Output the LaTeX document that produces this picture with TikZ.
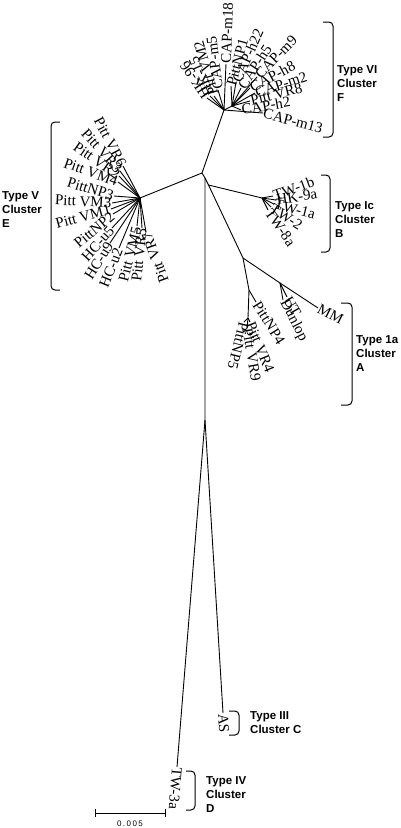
\documentclass[tikz,border=0pt]{standalone}
\usepackage{fontspec}
\setmainfont{Liberation Serif}
\newfontfamily\grpfont{Liberation Sans}
\newfontfamily\barfont[LetterSpace=18]{Liberation Sans}
\usetikzlibrary{positioning}

\tikzset{
  leaf/.style={inner sep=0.5pt, font=\fontsize{15}{16}\selectfont},
  branch/.style={line width=0.9pt},
  grp/.style={align=left, anchor=north west, inner sep=0pt,
    font=\grpfont\bfseries\fontsize{11.5}{14}\selectfont},
  brace/.style={line width=1pt, rounded corners=4pt}
}

\begin{document}
\begin{tikzpicture}[x=1pt,y=-1pt]
\useasboundingbox (0,0) rectangle (400,828);

% inner nodes of the tree
\coordinate (n1) at (202,173);
\coordinate (n2) at (205,178);
\coordinate (n3) at (208.5,185);
\coordinate (n4) at (205,420);
\coordinate (hF) at (224,110);
\coordinate (hF2) at (232,106);
\coordinate (hE) at (140,198);
\coordinate (hB) at (262,198);
\coordinate (hA) at (243,258);
\coordinate (hA1) at (249,290);
\coordinate (hA2) at (248,318);
\coordinate (hA3) at (280,283);

\draw[branch] (hE) -- (n1) -- (hF) -- (hF2);
\draw[branch] (n1) -- (n2) -- (n4);
\draw[branch] (n2) -- (n3) -- (hA) -- (hA1) -- (hA2);
\draw[branch] (n3) -- (hB);
\draw[branch] (hA) -- (hA3);

% cluster F
\foreach \lab/\x/\y/\r [count=\i] in {HK-96/207/98/124, HK-15/210/96/114,
    Pitt VM2/214/96/106, CAP-m5/218/90/97, CAP-m18/226/64/88, CAP-m13/263/113/-15}{
  \coordinate (f\i) at (\x,\y);
  \draw[branch] (hF) -- (f\i);
  \node[leaf, anchor=west, rotate=\r] (lf\i) at (f\i) {\lab};
}
\foreach \lab/\x/\y/\r [count=\i] in {PittNP1/231/86/75, CAP-h22/236/82/66,
    CAP-h5/241/88/57, CAP-m9/257/77/46, CAP-h8/250/88/28, CAP-m2/255/93/18,
    Pitt VR8/250/101/14, CAP-h2/241/110/10}{
  \coordinate (g\i) at (\x,\y);
  \draw[branch] (hF2) -- (g\i);
  \node[leaf, anchor=west, rotate=\r] (lg\i) at (g\i) {\lab};
}

% cluster E
\foreach \lab/\x/\y/\r [count=\i] in {Pitt VR6/123/166/-62, Pitt VR3/120/171/-48,
    Pitt VR2/119/176/-35, Pitt VM4/118/182/-20, PittNP3/114/196/-17,
    Pitt VM3/112/203/-3, Pitt VM1/111/209/15, PittNP2/113/214/40,
    HC-u5/112/228/48, HC-u9/110/243/58, HC-u2/119/248/68,
    Pitt VM5/137/226/76, Pitt VR5/142/228/84, Pitt VR7/146/232/110}{
  \coordinate (e\i) at (\x,\y);
  \draw[branch] (hE) -- (e\i);
  \node[leaf, anchor=east, rotate=\r] (le\i) at (e\i) {\lab};
}

% cluster B
\foreach \lab/\x/\y/\r [count=\i] in {TW-1b/273/196/20, HK-9a/276/200/9,
    TW-1a/274/204/-14, TW-2/271/207/-33, TW-8a/268/210/-55}{
  \coordinate (b\i) at (\x,\y);
  \draw[branch] (hB) -- (b\i);
  \node[leaf, anchor=west, rotate=\r] (lb\i) at (b\i) {\lab};
}

% cluster A
\foreach \lab/\x/\y/\r/\h [count=\i] in {MM/318/308/-27/hA3, UT/287/297/-60/hA3,
    Dunlop/283/300/-63/hA3, PittNP4/256/302/-58/hA1, Pitt VR4/250/322/-68/hA2,
    Pitt VR9/247/328/-80/hA2, PittNP5/244/322/-104/hA2}{
  \coordinate (a\i) at (\x,\y);
  \draw[branch] (\h) -- (a\i);
  \node[leaf, anchor=west, rotate=\r] (la\i) at (a\i) {\lab};
}

% clusters C and D
\coordinate (tAS) at (223,713);
\coordinate (tTW) at (177,767);
\draw[branch] (n4) -- (tAS);
\draw[branch] (n4) -- (tTW);
\node[leaf, anchor=west, rotate=-86.5] (lAS) at (tAS) {AS};
\node[leaf, anchor=west, rotate=-94.5] (lTW) at (tTW) {TW-3a};

% brackets
\draw[brace] (323,22) -- (333,22) -- (333,137) -- (323,137);
\draw[brace] (321,175) -- (330,175) -- (330,252) -- (321,252);
\draw[brace] (341,303) -- (352,303) -- (352,405) -- (341,405);
\draw[brace] (60,122) -- (51,122) -- (51,290) -- (60,290);
\draw[brace] (229,711) -- (239,711) -- (239,735) -- (229,735);
\draw[brace] (186,771) -- (195,771) -- (195,810) -- (186,810);

\node[grp] (cF) at (337,65) {Type VI\\Cluster\\F};
\node[grp] (cB) at (335,201) {Type Ic\\Cluster\\B};
\node[grp] (cA) at (356,335) {Type 1a\\Cluster\\A};
\node[grp] (cE) at (2,191) {Type V\\Cluster\\E};
\node[grp] (cC) at (250,711) {Type III\\Cluster C};
\node[grp] (cD) at (206,776) {Type IV\\Cluster\\D};

% scale bar
\coordinate (s1) at (95,813);
\coordinate (s2) at (165,813);
\draw[line width=0.9pt] (s1) -- (s2);
\draw[line width=0.9pt] ([yshift=4pt]s1) -- ([yshift=-4pt]s1);
\draw[line width=0.9pt] ([yshift=4pt]s2) -- ([yshift=-4pt]s2);
\node[inner sep=0pt, font=\barfont\fontsize{8}{9}\selectfont] (sbar) at (130,824) {0.005};

\end{tikzpicture}
\end{document}
